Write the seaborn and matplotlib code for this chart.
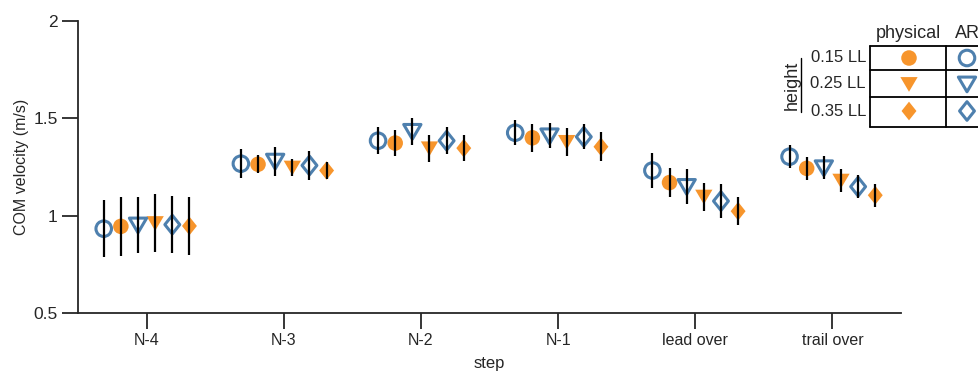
import numpy as np
import pandas as pd
import matplotlib.pyplot as plt
from matplotlib.path import Path
import seaborn as sns

# --- data ---
steps = ["N-4", "N-3", "N-2", "N-1", "lead over", "trail over"]
heights = ["0.15 LL", "0.25 LL", "0.35 LL"]

ar_015 = [0.933, 1.267, 1.385, 1.426, 1.232, 1.303]
ar_015_err = [0.145, 0.075, 0.068, 0.063, 0.092, 0.060]
phys_015 = [0.945, 1.264, 1.373, 1.400, 1.170, 1.243]
phys_015_err = [0.152, 0.047, 0.067, 0.072, 0.073, 0.060]

ar_025 = [0.952, 1.280, 1.433, 1.410, 1.150, 1.246]
ar_025_err = [0.144, 0.075, 0.070, 0.064, 0.088, 0.060]
phys_025 = [0.962, 1.247, 1.346, 1.379, 1.098, 1.180]
phys_025_err = [0.149, 0.042, 0.069, 0.073, 0.072, 0.058]

ar_035 = [0.954, 1.258, 1.385, 1.405, 1.075, 1.149]
ar_035_err = [0.146, 0.075, 0.068, 0.064, 0.089, 0.060]
phys_035 = [0.947, 1.232, 1.347, 1.354, 1.023, 1.105]
phys_035_err = [0.149, 0.046, 0.067, 0.074, 0.071, 0.059]

# series order inside each step group (left to right)
series = [
    ("AR", "0.15 LL", ar_015, ar_015_err),
    ("physical", "0.15 LL", phys_015, phys_015_err),
    ("AR", "0.25 LL", ar_025, ar_025_err),
    ("physical", "0.25 LL", phys_025, phys_025_err),
    ("AR", "0.35 LL", ar_035, ar_035_err),
    ("physical", "0.35 LL", phys_035, phys_035_err),
]

rows = []
for k, (cond, h, vals, errs) in enumerate(series):
    for i, s in enumerate(steps):
        rows.append({"step": s, "condition": cond, "height": h,
                     "slot": k, "mean": vals[i], "err": errs[i]})
df = pd.DataFrame(rows)
df["x"] = df["step"].map({s: i for i, s in enumerate(steps)}) + (df["slot"] - 2.5) * 0.125

# --- style ---
blue = "#4E80AE"
orange = "#F7952C"
tri = Path([(-1, 0.8), (1, 0.8), (0, -0.9), (-1, 0.8)], closed=True)
dia = Path([(0, 1), (0.8, 0), (0, -1), (-0.8, 0), (0, 1)], closed=True)
marker_map = {"0.15 LL": "o", "0.25 LL": tri, "0.35 LL": dia}
size_map = {"0.15 LL": 125, "0.25 LL": 155, "0.35 LL": 180}

sns.set_style("ticks")
plt.rcParams["font.family"] = ["Liberation Sans", "DejaVu Sans"]

fig = plt.figure(figsize=(9.79, 3.71), dpi=100)
ax = fig.add_axes([78 / 979, 58 / 371, 823 / 979, 292 / 371])

phys = df[df["condition"] == "physical"]
ar = df[df["condition"] == "AR"]

sns.scatterplot(data=phys, x="x", y="mean", style="height", markers=marker_map,
                size="height", sizes=size_map, color=orange, edgecolor="none",
                linewidth=0, legend=False, ax=ax, zorder=2)
sns.scatterplot(data=ar, x="x", y="mean", style="height", markers=marker_map,
                size="height", sizes=size_map, facecolor="none", edgecolor=blue,
                linewidth=2.2, legend=False, ax=ax, zorder=2)

ax.errorbar(df["x"], df["mean"], yerr=df["err"], fmt="none", ecolor="black",
            elinewidth=1.6, capsize=0, zorder=3)

ax.set_xlim(-0.5, 5.5)
ax.set_ylim(0.5, 2)
ax.set_xticks(range(len(steps)))
ax.set_xticklabels(steps, fontsize=11.5)
ax.set_yticks([0.5, 1, 1.5, 2])
ax.set_yticklabels(["0.5", "1", "1.5", "2"], fontsize=12.5)
ax.tick_params(direction="out", length=11.5, width=1.3, pad=3)
ax.set_xlabel("step", fontsize=12, labelpad=6)
ax.set_ylabel("COM velocity (m/s)", fontsize=11.5, labelpad=3)
for sp in ["left", "bottom"]:
    ax.spines[sp].set_linewidth(1.3)
sns.despine(ax=ax)

# --- table-style legend drawn in pixel coordinates ---
lax = fig.add_axes([0, 0, 1, 1])
lax.set_xlim(0, 979)
lax.set_ylim(371, 0)
lax.axis("off")

x_left, x_mid, x_right = 870, 946, 990
row_lines = [46, 70, 97, 127]
row_centers = [58, 84, 111]
for yl in row_lines:
    lax.plot([x_left, x_right], [yl, yl], color="black", lw=1.3, clip_on=False)
for xl in [x_left, x_mid]:
    lax.plot([xl, xl], [row_lines[0], row_lines[-1]], color="black", lw=1.3)

lax.text(908, 34, "physical", ha="center", va="center", fontsize=13)
lax.text(955, 34, "AR", ha="left", va="center", fontsize=13)
for h, yc in zip(heights, row_centers):
    lax.text(866, yc, h, ha="right", va="center", fontsize=12)
    lax.scatter([909], [yc], marker=marker_map[h], s=size_map[h], color=orange,
                edgecolor="none")
    lax.scatter([967], [yc], marker=marker_map[h], s=size_map[h], facecolor="none",
                edgecolor=blue, linewidth=2.2)
lax.text(792, 85, "height", rotation=90, ha="center", va="center", fontsize=13)
lax.plot([801, 801], [58, 112], color="black", lw=1.0)

fig.savefig("out.png", dpi=100)
